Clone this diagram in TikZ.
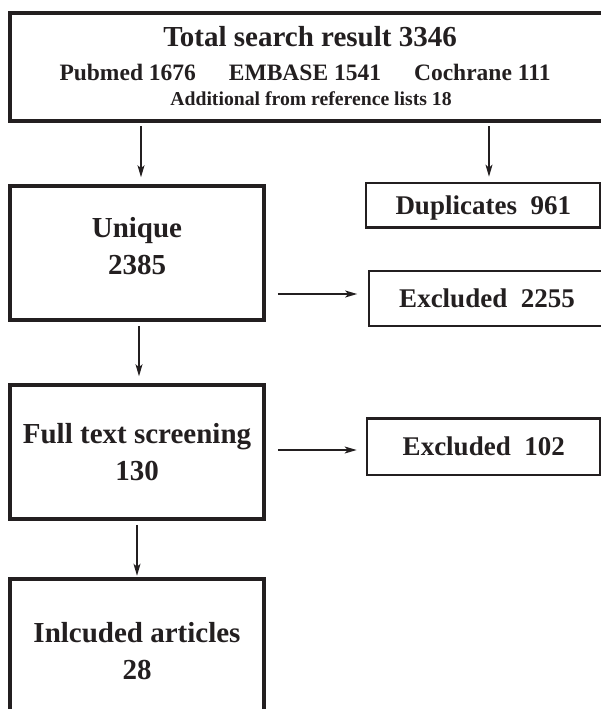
\documentclass[tikz,border=0pt]{standalone}
\usepackage{fontspec}
\setmainfont{Liberation Serif}
\usetikzlibrary{arrows.meta,calc}
\definecolor{ink}{RGB}{35,31,32}
\begin{document}
\begin{tikzpicture}[x=1pt,y=-1pt,
  lbox/.style={draw=ink, text=ink, line width=3.5pt, minimum width=254pt, align=center, inner sep=0pt,
               font=\fontsize{29}{37}\selectfont\bfseries},
  rbox/.style={draw=ink, text=ink, line width=2.7pt, inner sep=0pt, text height=18pt, text depth=0pt,
               font=\fontsize{27}{32}\selectfont\bfseries},
  tbox/.style={draw=ink, line width=3.2pt, inner sep=0pt},
  ttext/.style={text=ink, anchor=base, inner sep=0pt},
  arr/.style={draw=ink, line width=1.4pt, -{Stealth[length=12pt,width=7pt,inset=3pt]}}]
\useasboundingbox (0,0) rectangle (601,709);
\clip (0,0) rectangle (601,709);
% top box
\node[tbox, minimum width=594pt, minimum height=108pt] (total) at (307,67) {};
\node[ttext, font=\fontsize{29}{29}\selectfont\bfseries] (t1) at (310,47) {Total search result 3346};
\node[ttext, font=\fontsize{23.5}{24}\selectfont\bfseries] (t2) at (305,81) {Pubmed 1676\hspace{33pt}EMBASE 1541\hspace{33pt}Cochrane 111};
\node[ttext, font=\fontsize{19.7}{20}\selectfont\bfseries] (t3) at (311,105) {Additional from reference lists 18};
% left column
\node[lbox, minimum height=134pt] (unique) at (137,253) {Unique\\2385\rule[-14pt]{0pt}{14pt}};
\node[lbox, minimum height=134pt] (full) at (137,452) {Full text screening\\130};
\node[lbox, minimum height=144pt] (incl) at (137,651) {Inlcuded articles\\28};
% right column
\node[rbox, minimum width=234.5pt, minimum height=44.5pt] (dup) at (483.25,205.25) {Duplicates\hspace{13.5pt}961};
\node[rbox, minimum width=236pt, minimum height=55pt] (exa) at (487,298.5) {Excluded\hspace{13.5pt}2255};
\node[rbox, minimum width=233.5pt, minimum height=56.5pt] (exb) at (483.75,446.75) {Excluded\hspace{13.5pt}102};
% helper x positions
\coordinate (xa) at (141,0);
\coordinate (xb) at (489,0);
\coordinate (xc) at (139,0);
\coordinate (xd) at (137,0);
\coordinate (ya) at (0,294);
\coordinate (yb) at (0,450);
% arrows
\draw[arr, shorten <=3.5pt, shorten >=7pt] (total.south -| xa) -- (unique.north -| xa);
\draw[arr, shorten <=3.5pt, shorten >=5pt] (total.south -| xb) -- (dup.north -| xb);
\draw[arr, shorten <=12pt, shorten >=10.5pt] (unique.east |- ya) -- (exa.west |- ya);
\draw[arr, shorten <=4pt, shorten >=7pt] (unique.south -| xc) -- (full.north -| xc);
\draw[arr, shorten <=12pt, shorten >=9pt] (full.east |- yb) -- (exb.west |- yb);
\draw[arr, shorten <=4pt, shorten >=1.5pt] (full.south -| xd) -- (incl.north -| xd);
\end{tikzpicture}
\end{document}
